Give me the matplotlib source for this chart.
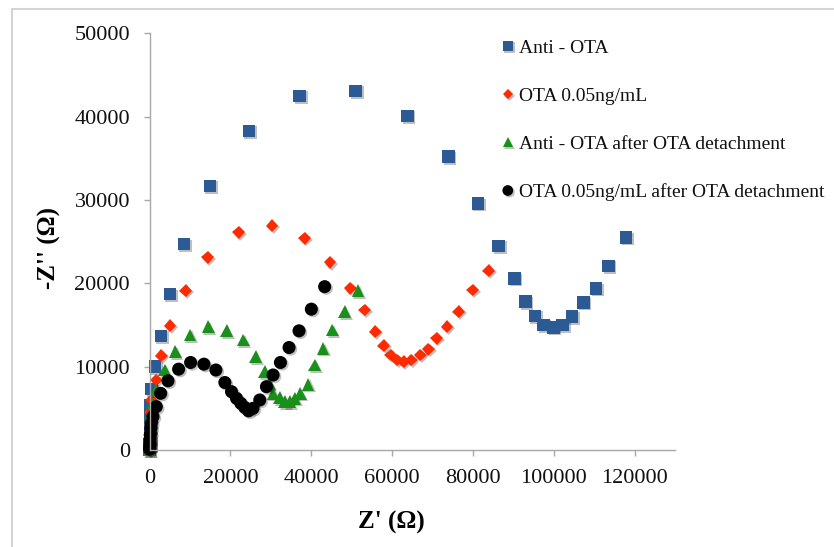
import matplotlib
matplotlib.use("Agg")
import matplotlib.pyplot as plt
import matplotlib.patheffects as pe
from matplotlib.patches import Rectangle

plt.rcParams['font.family'] = ['Liberation Serif', 'DejaVu Serif']

labels = ["Anti - OTA", "OTA 0.05ng/mL", "Anti - OTA after OTA detachment",
          "OTA 0.05ng/mL after OTA detachment"]

blue_x = [20, 40, 70, 110, 170, 280, 440, 1300, 2840, 5060, 8520, 14940, 24570, 37160,
          50990, 63830, 73950, 81280, 86370, 90250, 92960, 95350, 97480, 99900, 102200,
          104500, 107370, 110500, 113530, 117900]
blue_y = [0, 700, 1600, 2700, 3900, 5400, 7300, 10000, 13700, 18700, 24700, 31700, 38300,
          42500, 43100, 40100, 35200, 29600, 24500, 20600, 17800, 16100, 15000, 14700,
          15000, 16000, 17700, 19400, 22100, 25500]

red_x = [20, 40, 80, 150, 280, 450, 1680, 2900, 5060, 8940, 14370, 22020, 30320, 38400,
         44650, 49680, 53230, 55850, 57980, 59700, 61280, 62910, 64730, 66960, 69010,
         71060, 73620, 76490, 79950, 83900]
red_y = [0, 800, 1800, 3000, 4500, 6000, 8400, 11300, 14900, 19100, 23100, 26100, 26900,
         25400, 22500, 19400, 16800, 14200, 12500, 11400, 10800, 10600, 10800, 11400,
         12100, 13400, 14800, 16600, 19200, 21500]

green_x = [20, 40, 80, 160, 300, 600, 1680, 3750, 6370, 10000, 14520, 19060, 23160, 26300,
           28520, 29600, 30570, 32220, 33460, 34690, 35930, 37330, 39210, 40860, 42920,
           45230, 48270, 51560]
green_y = [0, 600, 1500, 2800, 4200, 5600, 7200, 9600, 11800, 13800, 14800, 14300, 13200,
           11200, 9400, 8000, 6800, 6300, 5800, 5800, 6200, 6800, 7900, 10200, 12200,
           14400, 16600, 19100]

black_x = [20, 50, 90, 140, 220, 330, 450, 860, 1680, 2760, 4570, 7200, 10170, 13460,
           16420, 18640, 20290, 21520, 22600, 23580, 24500, 25600, 27280, 28930, 30570,
           32390, 34520, 36990, 40040, 43330]
black_y = [100, 400, 800, 1300, 1900, 2600, 3200, 4000, 5200, 6800, 8300, 9700, 10500,
           10300, 9600, 8100, 7000, 6200, 5600, 5100, 4700, 5000, 6000, 7600, 9000, 10500,
           12300, 14300, 16900, 19600]

x_ticks = [0, 20000, 40000, 60000, 80000, 100000, 120000]
y_ticks = [0, 10000, 20000, 30000, 40000, 50000]

fig = plt.figure(figsize=(8.34, 5.47), dpi=100)
fig.patches.append(Rectangle((12 / 834, -0.05), 1.2, 1.05 - 9 / 547, transform=fig.transFigure,
                             fill=False, edgecolor='#d4d4d4', linewidth=1.5))
ax = fig.add_axes([149.5 / 834, 97 / 547, 525.5 / 834, 416.7 / 547])

shadow = [pe.SimplePatchShadow(offset=(1.2, -1.2), shadow_rgbFace='#000000', alpha=0.25),
          pe.Normal()]

series = [
    (blue_x, blue_y, 's', '#2C5A95', 9.0),
    (red_x, red_y, 'D', '#FF2A00', 6.5),
    (green_x, green_y, '^', '#199019', 9.2),
    (black_x, black_y, 'o', '#000000', 9.4),
]
handles = []
for (xs, ys, m, c, ms), lab in zip(series, labels):
    ln, = ax.plot(xs, ys, linestyle='none', marker=m, color=c, markersize=ms,
                  markeredgewidth=0, clip_on=False, label=lab, path_effects=shadow)
    handles.append(ln)

ax.set_xlim(0, 130000)
ax.set_ylim(0, 50000)
ax.set_xticks(x_ticks)
ax.set_yticks(y_ticks)
ax.set_xticklabels([str(v) for v in x_ticks])
ax.set_yticklabels([str(v) for v in y_ticks])
for s in ['top', 'right']:
    ax.spines[s].set_visible(False)
for s in ['left', 'bottom']:
    ax.spines[s].set_color('#a8a8a8')
    ax.spines[s].set_linewidth(1.0)
ax.tick_params(axis='both', direction='out', length=4, width=1.0, color='#a8a8a8',
               labelsize=16, pad=10, labelcolor='#111111')

fig.text(391 / 834, 1 - 522 / 547, "Z' (\u03a9)", fontsize=18, fontweight='bold',
         ha='center', va='center')
fig.text(49 / 834, 1 - 248 / 547, "-Z'' (\u03a9)", fontsize=18, fontweight='bold',
         ha='center', va='center', rotation=90)

leg = fig.legend(handles=handles, labels=labels, loc='upper left',
                 bbox_to_anchor=(500 / 834, 1 - 39 / 547), frameon=False, fontsize=14,
                 handlelength=0.8, handletextpad=0.2, labelspacing=1.57, borderpad=0,
                 borderaxespad=0, markerscale=0.82)
for t in leg.get_texts():
    t.set_color('#111111')

fig.savefig('out.png', dpi=100)
